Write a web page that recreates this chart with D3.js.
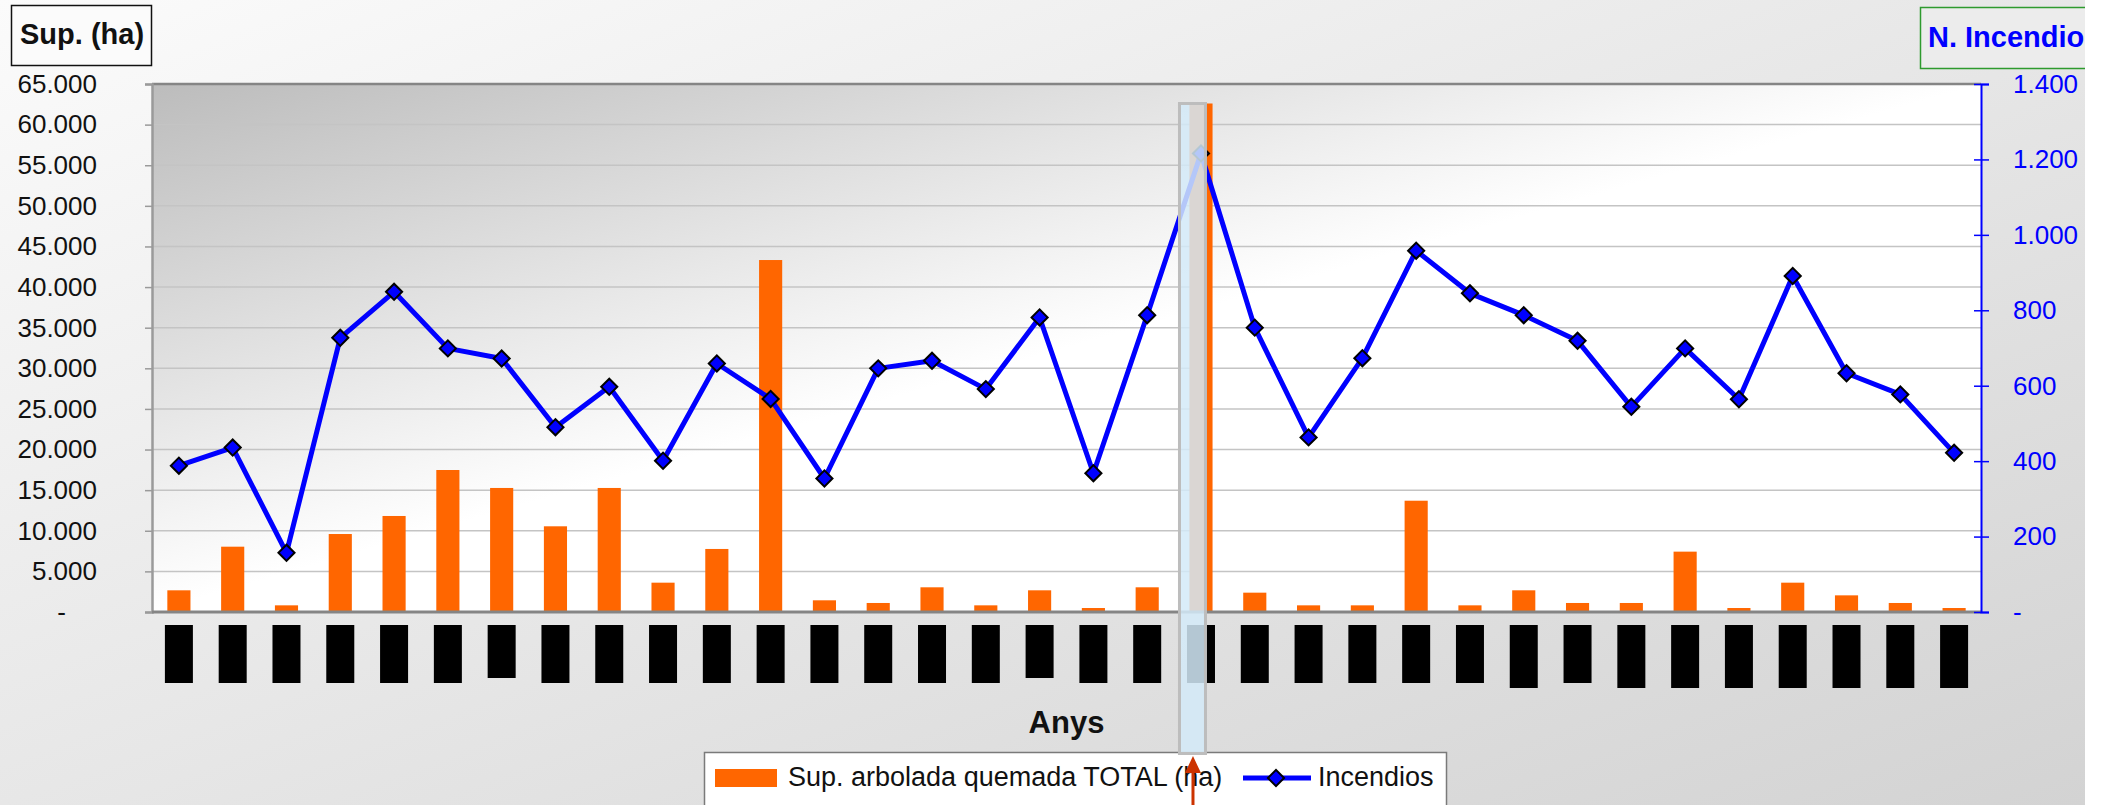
<!DOCTYPE html>
<html>
<head>
<meta charset="utf-8">
<script src="https://cdn.jsdelivr.net/npm/d3@7"></script>
<style>
  body { margin: 0; background: #fff; }
  text { font-family: "Liberation Sans", Arial, sans-serif; }
</style>
</head>
<body>
<svg id="chart" width="2107" height="805"></svg>
<script>
// categories (year labels are blacked out in the original)
const years = ["1975","1976","1977","1978","1979","1980","1981","1982","1983","1984",
               "1985","1986","1987","1988","1989","1990","1991","1992","1993","1994",
               "1995","1996","1997","1998","1999","2000","2001","2002","2003","2004",
               "2005","2006","2007","2008"]

// Sup. arbolada quemada TOTAL (ha)
const supArbolada = [2670, 8040, 820, 9600, 11820, 17480, 15270, 10550, 15270, 3610,
                     7760, 43330, 1440, 1110, 3040, 820, 2670, 490, 3040, 62600,
                     2380, 820, 820, 13700, 820, 2670, 1110, 1110, 7430, 490,
                     3610, 2050, 1110, 490]

// Incendios
const incendios = [388, 436, 157, 727, 849, 699, 672, 490, 597, 401,
                   659, 565, 354, 646, 666, 591, 781, 368, 787, 1216,
                   754, 463, 673, 958, 845, 787, 719, 544, 699, 564,
                   891, 633, 577, 422]

const leftTicks = [0, 5000, 10000, 15000, 20000, 25000, 30000, 35000, 40000, 45000, 50000, 55000, 60000, 65000]
const rightTicks = [0, 200, 400, 600, 800, 1000, 1200, 1400]

const highlightYear = "1994"

const svg = d3.select('#chart')
const W = 2085, H = 805
const plot = {left: 152, right: 1981, top: 84, bottom: 612}

const loc = d3.formatLocale({decimal: ",", thousands: ".", grouping: [3], currency: ["", ""]})
const fmt = d => d === 0 ? "-" : loc.format(",d")(d)

// gradients
const defs = svg.append('defs')
const bgGrad = defs.append('linearGradient').attr('id', 'bgGrad')
  .attr('x1', 0).attr('y1', 0).attr('x2', 1).attr('y2', 1)
bgGrad.append('stop').attr('offset', 0).attr('stop-color', '#fbfbfb')
bgGrad.append('stop').attr('offset', 1).attr('stop-color', '#d3d3d3')

const plotGrad = defs.append('linearGradient').attr('id', 'plotGrad')
  .attr('x1', 0).attr('y1', 0).attr('x2', 0.5).attr('y2', 0.5)
plotGrad.append('stop').attr('offset', 0).attr('stop-color', '#bcbcbc')
plotGrad.append('stop').attr('offset', 1).attr('stop-color', '#ffffff')

defs.append('clipPath').attr('id', 'clipChart')
  .append('rect').attr('width', W).attr('height', H)

const root = svg.append('g').attr('clip-path', 'url(#clipChart)')

root.append('rect').attr('width', W).attr('height', H).attr('fill', 'url(#bgGrad)')

root.append('rect')
  .attr('x', plot.left).attr('y', plot.top)
  .attr('width', plot.right - plot.left).attr('height', plot.bottom - plot.top)
  .attr('fill', 'url(#plotGrad)')

// scales
const x = d3.scaleBand().domain(years).range([plot.left, plot.right])
  .paddingInner(0.57).paddingOuter(0.285)
const yL = d3.scaleLinear().domain([0, 65000]).range([plot.bottom, plot.top])
const yR = d3.scaleLinear().domain([0, 1400]).range([plot.bottom, plot.top])
const cx = d => x(d) + x.bandwidth() / 2

// gridlines
root.append('g')
  .selectAll('line')
  .data(leftTicks.filter(t => t > 0 && t < 65000))
  .enter()
  .append('line')
  .attr('x1', plot.left).attr('x2', plot.right)
  .attr('y1', d => yL(d)).attr('y2', d => yL(d))
  .attr('stroke', '#c4c4c4').attr('stroke-width', 1.5)

// plot frame top
root.append('line').attr('x1', plot.left).attr('x2', plot.right)
  .attr('y1', plot.top).attr('y2', plot.top)
  .attr('stroke', '#858585').attr('stroke-width', 2.5)

// left axis
const leftAxis = root.append('g')
  .attr('transform', `translate(${plot.left},0)`)
  .call(d3.axisLeft(yL).tickValues(leftTicks).tickSize(7).tickPadding(48).tickFormat(fmt))
leftAxis.select('.domain').attr('stroke', '#9a9a9a').attr('stroke-width', 2.5)
leftAxis.selectAll('.tick line').attr('stroke', '#9a9a9a').attr('stroke-width', 1.5)
leftAxis.selectAll('.tick text')
  .attr('font-size', 26).attr('fill', '#111')
  .style('font-family', '"Liberation Sans", Arial, sans-serif')
  .attr('dx', d => d === 0 ? -31 : 0)

// bars
root.append('g')
  .selectAll('rect')
  .data(years)
  .enter()
  .append('rect')
  .attr('x', d => x(d))
  .attr('width', x.bandwidth())
  .attr('y', (d, i) => yL(supArbolada[i]))
  .attr('height', (d, i) => plot.bottom - yL(supArbolada[i]))
  .attr('fill', '#ff6600')

// bottom axis line
root.append('line').attr('x1', plot.left).attr('x2', plot.right)
  .attr('y1', plot.bottom).attr('y2', plot.bottom)
  .attr('stroke', '#858585').attr('stroke-width', 3)

// blacked-out year labels
const shortLabels = ["1981", "1991"]
const longLabels = ["2000", "2002", "2003", "2004", "2005", "2006", "2007", "2008"]
root.append('g')
  .selectAll('rect')
  .data(years)
  .enter()
  .append('rect')
  .attr('x', d => cx(d) - 14)
  .attr('width', 28)
  .attr('y', 625)
  .attr('height', d => shortLabels.includes(d) ? 53 : longLabels.includes(d) ? 63 : 58)
  .attr('fill', '#000')

// right axis
const rightAxis = root.append('g')
  .attr('transform', `translate(${plot.right},0)`)
  .call(d3.axisRight(yR).tickValues(rightTicks).tickSize(8).tickPadding(24).tickFormat(fmt))
rightAxis.select('.domain').attr('stroke', '#0000ff').attr('stroke-width', 2)
rightAxis.selectAll('.tick line').attr('stroke', '#0000ff').attr('stroke-width', 1.5).attr('x1', -7)
rightAxis.selectAll('.tick text')
  .attr('font-size', 26).attr('fill', '#0000ff')
  .style('font-family', '"Liberation Sans", Arial, sans-serif')

// line
const line = d3.line()
  .x((d, i) => cx(years[i]))
  .y(d => yR(d))

root.append('path')
  .datum(incendios)
  .attr('d', line)
  .attr('fill', 'none')
  .attr('stroke', '#0000ff')
  .attr('stroke-width', 5)
  .attr('stroke-linejoin', 'round')

const diamond = d3.symbol(d3.symbolSquare, 130)
root.append('g')
  .selectAll('path')
  .data(incendios)
  .enter()
  .append('path')
  .attr('d', diamond)
  .attr('transform', (d, i) => `translate(${cx(years[i])},${yR(d)}) rotate(45)`)
  .attr('fill', '#0000ff')
  .attr('stroke', '#000')
  .attr('stroke-width', 2)

// axis titles
root.append('text')
  .attr('x', (plot.left + plot.right) / 2).attr('y', 733)
  .attr('text-anchor', 'middle')
  .attr('font-size', 31).attr('font-weight', 'bold').attr('fill', '#111')
  .text('Anys')

root.append('rect')
  .attr('x', 11.5).attr('y', 5.5).attr('width', 140).attr('height', 60)
  .attr('fill', '#fbfbfb').attr('stroke', '#111').attr('stroke-width', 1.5)
root.append('text')
  .attr('x', 20).attr('y', 44)
  .attr('font-size', 29).attr('font-weight', 'bold').attr('fill', '#111')
  .text('Sup. (ha)')

root.append('rect')
  .attr('x', 1920.5).attr('y', 7.5).attr('width', 200).attr('height', 61)
  .attr('fill', '#ececec').attr('stroke', '#2e9a2e').attr('stroke-width', 1.5)
root.append('text')
  .attr('x', 1928).attr('y', 47)
  .attr('font-size', 29).attr('font-weight', 'bold').attr('fill', '#0000ff')
  .text('N. Incendios')

// legend
const lg = root.append('g')
lg.append('rect')
  .attr('x', 704.5).attr('y', 752.5).attr('width', 742).attr('height', 80)
  .attr('fill', '#fff').attr('stroke', '#7a7a7a').attr('stroke-width', 1.5)
lg.append('rect')
  .attr('x', 715).attr('y', 769).attr('width', 62).attr('height', 18)
  .attr('fill', '#ff6600')
lg.append('text')
  .attr('x', 788).attr('y', 786)
  .attr('font-size', 27).attr('fill', '#111')
  .text('Sup. arbolada quemada TOTAL (ha)')
lg.append('line')
  .attr('x1', 1243).attr('x2', 1311).attr('y1', 778).attr('y2', 778)
  .attr('stroke', '#0000ff').attr('stroke-width', 5)
lg.append('path')
  .attr('d', diamond)
  .attr('transform', 'translate(1276,778) rotate(45)')
  .attr('fill', '#0000ff').attr('stroke', '#000').attr('stroke-width', 2)
lg.append('text')
  .attr('x', 1318).attr('y', 786)
  .attr('font-size', 27).attr('fill', '#111')
  .text('Incendios')

// highlight column over the 1994 bar
const hx = cx(highlightYear)
root.append('rect')
  .attr('x', hx - 21.5).attr('y', 103.5).attr('width', 26).attr('height', 650)
  .attr('fill', '#d3eaf8').attr('fill-opacity', 0.85)
  .attr('stroke', '#bdbdbd').attr('stroke-width', 3)

// red arrow pointing at it
root.append('line')
  .attr('x1', hx - 8).attr('x2', hx - 8).attr('y1', 810).attr('y2', 770)
  .attr('stroke', '#cc3300').attr('stroke-width', 3)
root.append('path')
  .attr('d', d3.line()([[hx - 16, 773], [hx - 8, 756], [hx, 773]]) + 'Z')
  .attr('fill', '#cc3300')
</script>
</body>
</html>
